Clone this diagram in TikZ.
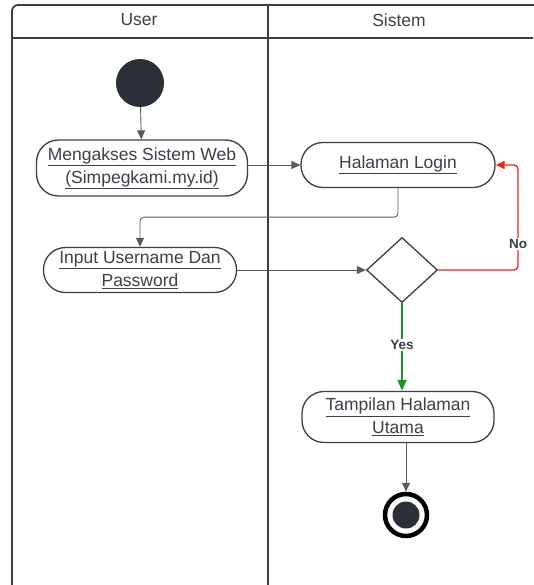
\documentclass[tikz,border=0pt]{standalone}
\usepackage{fontspec}
\setmainfont{Liberation Sans}
\usetikzlibrary{arrows.meta,shapes.geometric}
\definecolor{ink}{HTML}{3A3F46}
\definecolor{txt}{HTML}{3C4048}
\definecolor{dot}{HTML}{2B2F36}
\definecolor{noline}{HTML}{EC2424}
\definecolor{yesline}{HTML}{1E961E}
\tikzset{
  lane/.style={draw=ink, line width=1.8pt},
  act/.style={draw=ink, line width=1.3pt, rectangle, rounded corners=22pt,
    align=center, font=\fontsize{17.5}{23}\selectfont, text=txt, inner sep=0pt},
  flow/.style={draw=ink!85, line width=0.9pt, -{Triangle[length=9pt,width=8pt]}},
  guard/.style={fill=white, font=\bfseries\fontsize{13.5}{15}\selectfont, text=txt, inner sep=1.5pt},
}
\begin{document}
\begin{tikzpicture}[x=1pt,y=-1pt]
\useasboundingbox (0,0) rectangle (533,585);
\fill[white] (0,0) rectangle (533,585);

% swimlanes
\draw[lane, rounded corners=6pt] (12,5) rectangle (570,600);
\draw[lane] (12,38) -- (533,38);
\draw[lane] (268,5) -- (268,585);
\node[font=\fontsize{17.5}{20}\selectfont, text=txt] (hUser) at (139,20) {User};
\node[font=\fontsize{17.5}{20}\selectfont, text=txt] (hSistem) at (399,20) {Sistem};

% activities
\node[circle, fill=dot, minimum size=48pt, inner sep=0pt] (start) at (140,83) {};
\node[act, minimum width=211pt, minimum height=56pt] (akses) at (142,168)
  {\underline{Mengakses Sistem Web}\\\underline{(Simpegkami.my.id)}};
\node[act, minimum width=194pt, minimum height=45pt] (login) at (398,165)
  {\underline{Halaman Login}};
\node[act, minimum width=193pt, minimum height=45pt] (input) at (140,270)
  {\underline{Input Username Dan}\\\underline{Password}};
\node[diamond, draw=ink, line width=1.3pt, minimum width=71pt, minimum height=65pt,
  inner sep=0pt] (cek) at (402,270) {};
\node[act, minimum width=192pt, minimum height=51pt] (utama) at (398,417)
  {\underline{Tampilan Halaman}\\\underline{Utama}};
\node[circle, draw=black, line width=4.5pt, minimum size=42pt, inner sep=0pt] (stop) at (406,515) {};
\fill[dot] (stop.center) circle (13.5);

% connectors
\draw[flow] (start) -- (akses);
\draw[flow] (akses.east |- login.west) -- (login.west);
\draw[flow, rounded corners=4pt] (login.south) -- ++(0,29) -| (input.north);
\draw[flow] (input) -- (cek);
\coordinate (noturn) at (518,270);
\draw[draw=noline, line width=1.3pt, rounded corners=4pt, -{Triangle[length=9pt,width=8pt]}]
  (cek.east) -- (noturn) |- (login.east);
\node[guard] (noLbl) at (518,244) {No};
\draw[draw=yesline, line width=1.8pt, -{Triangle[length=11pt,width=9pt]}] (cek.south) -- (cek.south |- utama.north);
\node[guard] (yesLbl) at (402,345) {Yes};
\draw[flow] (utama.south -| stop) -- (stop);
\end{tikzpicture}
\end{document}
